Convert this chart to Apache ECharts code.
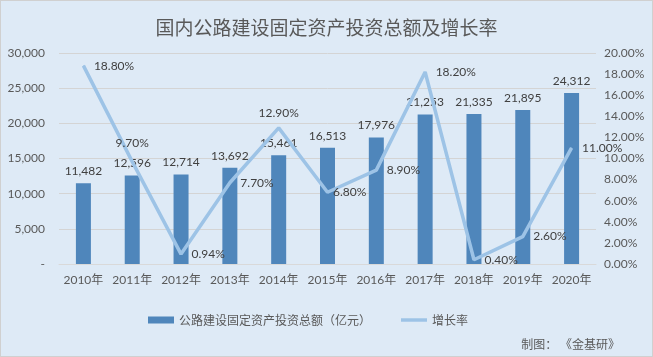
<!DOCTYPE html>
<html><head><meta charset="utf-8">
<script src="https://cdn.jsdelivr.net/npm/echarts@6/dist/echarts.min.js"></script>
<style>
html,body{margin:0;padding:0;background:#fff;}
#c{width:651px;height:355px;border:1px solid #d0d0d0;background:#deeaf6;}
</style></head>
<body><div id="c"></div>
<script>
const categories = ['2010年','2011年','2012年','2013年','2014年','2015年','2016年','2017年','2018年','2019年','2020年'];
const investment = [11482,12596,12714,13692,15461,16513,17976,21253,21335,21895,24312];
const growthRate = [18.80,9.70,0.94,7.70,12.90,6.80,8.90,18.20,0.40,2.60,11.00];
const barName = '公路建设固定资产投资总额（亿元）';
const lineName = '增长率';
const titleText = '国内公路建设固定资产投资总额及增长率';
const sourceText = '制图： 《金基研》';

const FONT = "Lato, 'Noto Sans CJK SC', sans-serif";
const CJK = "'Noto Sans CJK SC', sans-serif";
const lineLabelStyle = {
  1: {position:'top', distance:12},
  4: {position:'top', distance:8},
  5: {position:'right', offset:[-6,5]}
};
const chart = echarts.init(document.getElementById('c'));
chart.setOption({
  backgroundColor:'#deeaf6',
  textStyle:{fontFamily:FONT},
  title:{text:titleText,left:'center',top:12,textStyle:{fontSize:19,fontWeight:'normal',color:'#595959',fontFamily:CJK}},
  graphic:[{type:'text',right:32,bottom:6,style:{text:sourceText,fill:'#595959',fontSize:12,fontFamily:CJK}}],
  legend:{bottom:25,left:142,itemGap:30,itemWidth:26,itemHeight:7,
    textStyle:{color:'#595959',fontSize:12,fontFamily:CJK},
    data:[{name:barName,icon:'rect'},{name:lineName,icon:'path://M0 0H30V4H0Z',itemStyle:{color:'#9dc3e6'}}]},
  grid:{left:58,right:56,top:52,bottom:92},
  xAxis:{type:'category',data:categories,
    axisLine:{lineStyle:{color:'#d9d9d9'}},axisTick:{show:false},
    axisLabel:{color:'#595959',fontSize:12,margin:10,interval:0}},
  yAxis:[
    {type:'value',min:0,max:30000,interval:5000,
     axisLabel:{color:'#595959',fontSize:12,margin:14,formatter:v=>v===0?'-':v.toLocaleString('en-US')},
     splitLine:{lineStyle:{color:'#d4d4d4'}},axisLine:{show:false},axisTick:{show:false}},
    {type:'value',min:0,max:20,interval:2,
     axisLabel:{color:'#595959',fontSize:12,margin:8,formatter:v=>v.toFixed(2)+'%'},
     splitLine:{show:false},axisLine:{show:false},axisTick:{show:false}}
  ],
  series:[
    {name:barName,type:'bar',data:investment,barWidth:15,itemStyle:{color:'#4f86bb'},
     label:{show:true,position:'top',color:'#404040',fontSize:12,distance:6,formatter:p=>p.value.toLocaleString('en-US')}},
    {name:lineName,type:'line',yAxisIndex:1,showSymbol:true,symbol:'circle',symbolSize:1,
     lineStyle:{color:'#9dc3e6',width:3.5},itemStyle:{color:'#9dc3e6'},
     data:growthRate.map((v,i)=>{
       const s=lineLabelStyle[i]||{position:'right',distance:10};
       return {value:v,label:Object.assign({show:true},s)};
     }),
     label:{show:true,color:'#404040',fontSize:12,formatter:p=>p.value.toFixed(2)+'%'},
     labelLayout:{hideOverlap:false}}
  ]
});
</script></body></html>
